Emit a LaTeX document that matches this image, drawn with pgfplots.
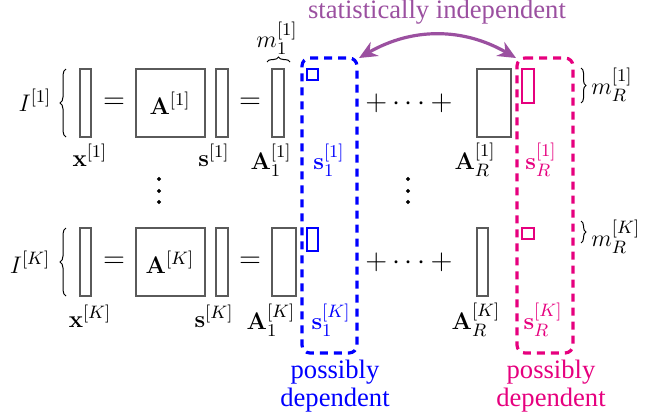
\documentclass[border=0pt]{standalone}
\usepackage[no-math]{fontspec}
\setmainfont{Liberation Serif}
\usepackage{pgfplots}
\pgfplotsset{compat=1.18}
\usetikzlibrary{decorations.pathreplacing,arrows.meta}
\definecolor{sblue}{RGB}{0,0,255}
\definecolor{spink}{RGB}{230,0,126}
\definecolor{spurple}{RGB}{155,80,160}
\definecolor{rgray}{RGB}{90,90,90}
\newcommand{\bigsz}{\fontsize{14}{16}\selectfont}
\newcommand{\txt}{\fontsize{13.3}{15}\selectfont}
\begin{document}
\begin{tikzpicture}[every node/.append style={font=\fontsize{12.5}{15}\selectfont}]
\begin{axis}[
  width=333.5pt, height=209pt, scale only axis,
  xmin=0, xmax=667, ymin=0, ymax=418, y dir=reverse,
  axis lines=none, clip=false,
  blk/.style={rgray, line width=0.6pt, mark=none},
  box/.style={line width=1.6pt, dash pattern=on 4pt off 3pt, rounded corners=4pt, mark=none},
]
% row 1 blocks
\addplot[blk] coordinates {(80,69) (91,69) (91,137) (80,137)} -- cycle;
\addplot[blk] coordinates {(136,69) (205,69) (205,137) (136,137)} -- cycle;
\addplot[blk] coordinates {(216,69) (228,69) (228,137) (216,137)} -- cycle;
\addplot[blk] coordinates {(272,69) (284,69) (284,137) (272,137)} -- cycle;
\addplot[blk] coordinates {(477,69) (511,69) (511,137) (477,137)} -- cycle;
\addplot[sblue, line width=0.6pt, mark=none] coordinates {(307,69) (318,69) (318,80) (307,80)} -- cycle;
\addplot[spink, line width=0.6pt, mark=none] coordinates {(522,69) (534,69) (534,103) (522,103)} -- cycle;
% row K blocks
\addplot[blk] coordinates {(80,228) (91,228) (91,296) (80,296)} -- cycle;
\addplot[blk] coordinates {(136,228) (205,228) (205,296) (136,296)} -- cycle;
\addplot[blk] coordinates {(216,228) (228,228) (228,296) (216,296)} -- cycle;
\addplot[blk] coordinates {(272,228) (296,228) (296,296) (272,296)} -- cycle;
\addplot[blk] coordinates {(477,228) (488,228) (488,296) (477,296)} -- cycle;
\addplot[sblue, line width=0.6pt, mark=none] coordinates {(307,228) (318,228) (318,251) (307,251)} -- cycle;
\addplot[spink, line width=0.6pt, mark=none] coordinates {(522,228) (534,228) (534,239) (522,239)} -- cycle;
% dashed groups
\addplot[box, sblue] coordinates {(302,58) (357,58) (357,353) (302,353)} -- cycle;
\addplot[box, spink] coordinates {(517,58) (573,58) (573,353) (517,353)} -- cycle;
% vertical dots
\addplot[only marks, mark=*, mark size=0.8pt, black] coordinates {(159,179) (159,191) (159,202)};
\addplot[only marks, mark=*, mark size=0.8pt, black] coordinates {(408,179) (408,191) (408,202)};

% braces
\draw[decorate, decoration={brace, amplitude=3pt}, line width=0.5pt] (axis cs:66,137) -- (axis cs:66,69);
\draw[decorate, decoration={brace, amplitude=3pt}, line width=0.5pt] (axis cs:66,296) -- (axis cs:66,228);
\draw[decorate, decoration={brace, amplitude=2.5pt}, line width=0.5pt] (axis cs:267,62) -- (axis cs:290,62);
\draw[decorate, decoration={brace, amplitude=2.5pt}, line width=0.5pt] (axis cs:581,68) -- (axis cs:581,103);
\draw[decorate, decoration={brace, amplitude=2.5pt}, line width=0.5pt] (axis cs:581,221) -- (axis cs:581,243);

% arrow
\draw[spurple, line width=1.6pt, {Stealth[length=9pt,width=8pt]}-{Stealth[length=9pt,width=8pt]}]
  (axis cs:359,58) to[bend left=30] (axis cs:516,58);

% texts row 1
\node at (axis cs:35,100) {$I^{[1]}$};
\node at (axis cs:114,103) {\bigsz$=$};
\node at (axis cs:170,103) {$\mathbf{A}^{[1]}$};
\node at (axis cs:250,103) {\bigsz$=$};
\node at (axis cs:409,103) {\bigsz$+\cdots+$};
\node at (axis cs:277,38) {$m_1^{[1]}$};
\node[anchor=west, inner sep=0pt] at (axis cs:591,85) {$m_R^{[1]}$};
\node at (axis cs:90,155) {$\mathbf{x}^{[1]}$};
\node at (axis cs:214,155) {$\mathbf{s}^{[1]}$};
\node at (axis cs:271,160) {$\mathbf{A}_1^{[1]}$};
\node[sblue] at (axis cs:329,160) {$\mathbf{s}_1^{[1]}$};
\node at (axis cs:475,160) {$\mathbf{A}_R^{[1]}$};
\node[spink] at (axis cs:541,160) {$\mathbf{s}_R^{[1]}$};
% texts row K
\node at (axis cs:30,262) {$I^{[K]}$};
\node at (axis cs:114,262) {\bigsz$=$};
\node at (axis cs:170,262) {$\mathbf{A}^{[K]}$};
\node at (axis cs:250,262) {\bigsz$=$};
\node at (axis cs:409,262) {\bigsz$+\cdots+$};
\node[anchor=west, inner sep=0pt] at (axis cs:591,237) {$m_R^{[K]}$};
\node at (axis cs:90,316) {$\mathbf{x}^{[K]}$};
\node at (axis cs:214,316) {$\mathbf{s}^{[K]}$};
\node at (axis cs:271,320) {$\mathbf{A}_1^{[K]}$};
\node[sblue] at (axis cs:331,320) {$\mathbf{s}_1^{[K]}$};
\node at (axis cs:476,320) {$\mathbf{A}_R^{[K]}$};
\node[spink] at (axis cs:543,320) {$\mathbf{s}_R^{[K]}$};
% annotations
\node[spurple, font=\txt] at (axis cs:437,12) {statistically independent};
\node[sblue, font=\txt, align=center, inner sep=0pt] at (axis cs:335,386) {possibly\\[-1pt]dependent};
\node[spink, font=\txt, align=center, inner sep=0pt] at (axis cs:551,386) {possibly\\[-1pt]dependent};
\end{axis}
\pgfresetboundingbox
\path[use as bounding box] (current axis.south west) rectangle (current axis.north east);
\end{tikzpicture}
\end{document}
